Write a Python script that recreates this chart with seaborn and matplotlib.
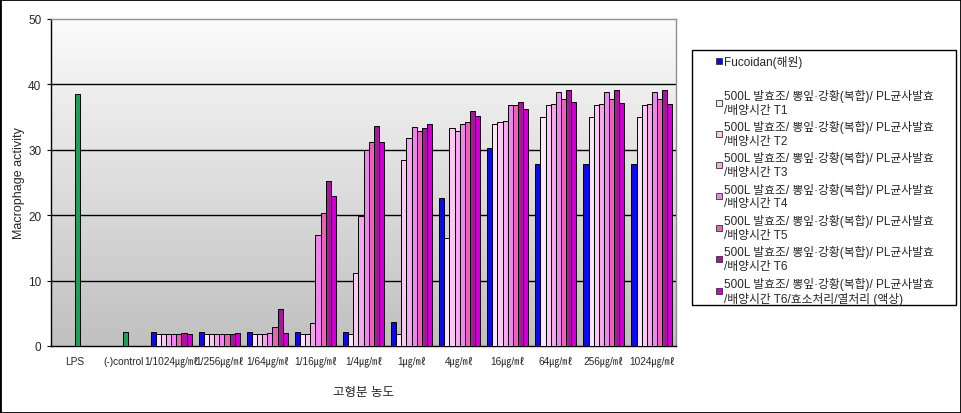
import numpy as np
import pandas as pd
import matplotlib
matplotlib.use("Agg")
import matplotlib.pyplot as plt
import matplotlib.patches as mpatches
from matplotlib.lines import Line2D
import seaborn as sns

# ---------------- data ----------------
categories = ["LPS", "(-)control", "1/1024㎍/㎖", "1/256㎍/㎖", "1/64㎍/㎖", "1/16㎍/㎖",
              "1/4㎍/㎖", "1㎍/㎖", "4㎍/㎖", "16㎍/㎖", "64㎍/㎖", "256㎍/㎖", "1024㎍/㎖"]
sample_categories = categories[2:]

base_label = "500L 발효조/ 뽕잎·강황(복합)/ PL균사발효\n/배양시간 "
series_names = ["Fucoidan(해원)",
                base_label + "T1", base_label + "T2", base_label + "T3",
                base_label + "T4", base_label + "T5", base_label + "T6",
                base_label + "T6/효소처리/열처리 (액상)"]

fucoidan = [2.1, 2.1, 2.1, 2.2, 2.2, 3.6, 22.6, 30.3, 27.9, 27.9, 27.9]
t1 = [1.8, 1.8, 1.8, 1.8, 1.9, 1.9, 16.5, 34.0, 35.0, 35.0, 35.0]
t2 = [1.8, 1.8, 1.8, 1.9, 11.1, 28.5, 33.4, 34.2, 36.8, 36.8, 36.8]
t3 = [1.8, 1.8, 1.8, 3.5, 19.9, 31.8, 32.8, 34.4, 37.0, 37.0, 37.0]
t4 = [1.8, 1.8, 2.0, 16.9, 30.0, 33.5, 33.9, 36.8, 38.9, 38.9, 38.9]
t5 = [1.8, 1.8, 2.9, 20.3, 31.2, 32.8, 34.2, 36.8, 37.7, 37.7, 37.7]
t6 = [2.0, 1.9, 5.7, 25.2, 33.6, 33.3, 35.9, 37.3, 39.1, 39.1, 39.1]
t7 = [1.8, 2.0, 2.0, 22.9, 31.2, 33.9, 35.1, 36.2, 37.3, 37.2, 37.0]
series_values = [fucoidan, t1, t2, t3, t4, t5, t6, t7]

control_categories = ["LPS", "(-)control"]
control_values = [38.5, 2.1]

series_colors = ["#0a0aee", "#fde4f8", "#fbc8f2", "#f6a6ee", "#f283ee",
                 "#e862bc", "#a6169e", "#cc00cc"]
control_color = "#1f9e5a"

# ---------------- figure ----------------
sns.set_style("white")
plt.rcParams["font.family"] = ["Liberation Sans", "Noto Sans CJK KR", "DejaVu Sans"]

W, H = 961, 414
fig = plt.figure(figsize=(W / 100, H / 100), dpi=100)
ax = fig.add_axes([51 / W, (H - 347) / H, (676 - 51) / W, (347 - 20) / H])

# gradient background
grad = np.linspace(0, 1, 256).reshape(-1, 1)
cmap = matplotlib.colors.LinearSegmentedColormap.from_list("bg", ["#fbfbfb", "#c0c0c0"])
ax.imshow(grad, extent=[0, 1, 0, 1], transform=ax.transAxes, cmap=cmap,
          aspect="auto", zorder=0, origin="upper")

rows = []
for name, vals in zip(series_names, series_values):
    for c, v in zip(sample_categories, vals):
        rows.append({"cat": c, "series": name, "val": v})
df = pd.DataFrame(rows)

palette = dict(zip(series_names, series_colors))
sns.barplot(data=df, x="cat", y="val", hue="series", order=categories,
            hue_order=series_names, palette=palette, width=0.853, saturation=1,
            dodge=True, edgecolor="black", linewidth=0.7, errorbar=None, ax=ax,
            zorder=3)
if ax.get_legend() is not None:
    ax.get_legend().remove()

# green control bars drawn in the 5th dodge slot
gdf = pd.DataFrame({"cat": control_categories,
                    "series": [series_names[4]] * 2,
                    "val": control_values})
sns.barplot(data=gdf, x="cat", y="val", hue="series", order=categories,
            hue_order=series_names, palette={n: control_color for n in series_names},
            width=0.853, saturation=1, dodge=True, edgecolor="black", linewidth=0.7,
            errorbar=None, ax=ax, legend=False, zorder=3)

ax.set_ylim(0, 50)
ax.set_xlim(-0.5, len(categories) - 0.5)
ax.set_yticks([0, 10, 20, 30, 40, 50])
for yv in [10, 20, 30, 40]:
    ax.axhline(yv, color="black", linewidth=1.0, zorder=1)
ax.tick_params(axis="y", which="both", left=True, length=3, width=0.8,
               labelsize=8.5, pad=4, color="black")
ax.tick_params(axis="x", length=0, labelsize=7.3, pad=7)
ax.set_xticks(range(len(categories)))
ax.set_xticklabels(categories)
ax.set_ylabel("Macrophage activity", fontsize=9, labelpad=2)
ax.set_xlabel("고형분 농도", fontsize=9, labelpad=14)

for s in ["left", "bottom"]:
    ax.spines[s].set_color("black")
    ax.spines[s].set_linewidth(1.0)
for s in ["top", "right"]:
    ax.spines[s].set_color("#909090")
    ax.spines[s].set_linewidth(1.0)
    ax.spines[s].set_visible(True)

# legend frame drawn separately
fig.patches.append(mpatches.Rectangle((692 / W, 1 - 306 / H), (956 - 692) / W,
                                      (306 - 51) / H, transform=fig.transFigure,
                                      facecolor="white", edgecolor="black",
                                      linewidth=1.0, zorder=1))

handles = [Line2D([], [], marker="s", markersize=4.2, linestyle="none",
                  markerfacecolor=c, markeredgecolor="#333333", markeredgewidth=0.6)
           for c in series_colors]
labels = list(series_names)
blank = Line2D([], [], linestyle="none")
handles = [handles[0], blank] + handles[1:]
labels = [labels[0], " "] + labels[1:]
leg = fig.legend(handles, labels, loc="upper left",
                 bbox_to_anchor=(716 / W, 1 - 56 / H), frameon=False,
                 fontsize=8.5, handlelength=0.5, handletextpad=0.2,
                 labelspacing=0.37, borderpad=0, borderaxespad=0)
leg.set_zorder(2)
for t in leg.get_texts():
    t.set_linespacing(1.2)

# outer border
fig.patches.append(mpatches.Rectangle((0, 0), 1, 1, transform=fig.transFigure,
                                      fill=False, edgecolor="black", linewidth=2))

fig.savefig("out.png", dpi=100)
